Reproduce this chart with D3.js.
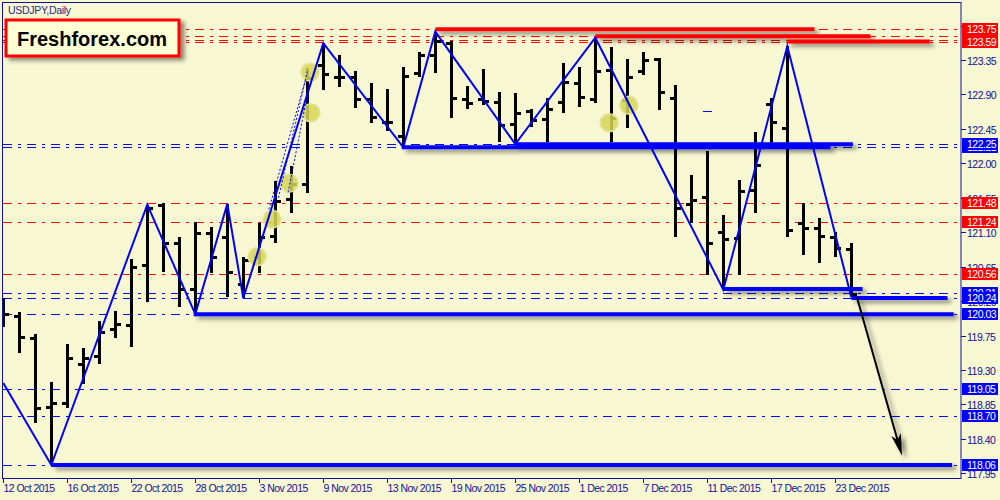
<!DOCTYPE html>
<html><head><meta charset="utf-8">
<script src="https://cdn.jsdelivr.net/npm/d3@7"></script>
<style>body{margin:0;background:#F7F7D2;} svg{display:block;}</style>
</head><body><svg id="c" width="1000" height="500"></svg>
<script>
// ---- data (USDJPY daily, 12 Oct 2015 .. 24 Dec 2015) ----
const opens  = [120.15,120.01,119.72,118.82,118.87,119.38,119.48,119.84,119.89,120.67,121.46,120.96,120.36,121.09,121.04,120.42,120.78,121.05,121.53,121.73,123.28,123.13,123.13,122.84,122.54,122.36,123.18,123.42,123.57,122.84,122.84,122.80,122.51,122.68,122.58,122.80,123.05,122.84,123.22,122.83,123.21,123.36,122.85,121.47,121.56,121.10,121.02,121.65,122.78,122.46,121.22,121.16,121.04,120.88];
const highs  = [120.24,120.06,119.77,119.14,119.64,119.59,119.94,120.07,120.75,121.46,121.48,121.04,121.23,121.17,121.47,120.78,121.22,121.77,121.97,123.25,123.57,123.42,123.21,123.05,122.97,123.26,123.45,123.72,123.60,123.01,123.23,122.93,122.92,122.71,122.85,123.31,123.26,123.64,123.52,123.36,123.45,123.38,123.02,121.85,122.16,121.33,121.78,122.41,122.85,123.53,121.48,121.29,121.10,120.96];
const lows   = [119.86,119.52,118.61,118.06,118.80,119.12,119.38,119.72,119.60,120.19,120.58,120.12,120.02,120.57,120.25,120.24,120.57,120.96,121.35,121.61,122.96,123.00,122.72,122.53,122.42,122.21,123.13,123.18,122.59,122.71,122.76,122.28,122.25,122.47,122.28,122.66,122.74,122.79,122.28,122.46,123.15,122.70,121.04,121.22,120.54,120.35,120.54,121.35,122.20,121.04,120.80,120.70,120.78,120.25];
const closes = [120.03,119.73,118.80,118.87,119.46,119.46,119.80,119.90,120.65,121.42,120.96,120.36,121.09,120.78,120.58,120.74,121.04,121.51,121.73,123.11,123.17,123.13,122.84,122.61,122.54,123.14,123.42,123.60,122.85,122.79,122.81,122.50,122.66,122.57,122.71,123.06,122.87,123.21,122.59,123.13,123.35,122.93,121.42,121.52,120.96,121.01,121.64,121.98,122.54,121.13,121.16,121.05,120.89,120.29];

const dateTickIdx = [0,4,8,12,16,20,24,28,32,36,40,44,48,52];
const dateTickLabels = ["12 Oct 2015","16 Oct 2015","22 Oct 2015","28 Oct 2015","3 Nov 2015","9 Nov 2015","13 Nov 2015","19 Nov 2015","25 Nov 2015","1 Dec 2015","7 Dec 2015","11 Dec 2015","17 Dec 2015","23 Dec 2015"];
const priceTicks = [117.95,118.40,118.85,119.30,119.75,120.20,120.65,121.10,121.55,122.00,122.45,122.90,123.35,123.80];

// horizontal levels (dash-dot) with axis labels
const redLevels  = [123.66,123.61,123.75,123.59,121.48,121.24,120.56];
const blueLevels = [122.21,122.25,120.31,120.24,120.03,119.05,118.70,118.06];

// thick support / resistance segments: [startIdx, endIdx, price]
const blueSegStart = [3, 11.9, 24.9, 32, 45, 53];
const blueSegEnd   = [59.3, 59.4, 51.7, 53.1, 53.7, 59];
const blueSegPrice = [118.06, 120.03, 122.21, 122.25, 120.36, 120.24];
const redSegStart  = [27, 37, 49];
const redSegEnd    = [50.7, 54.2, 57.9];
const redSegPrice  = [123.75, 123.66, 123.59];

// zigzag
const zigIdx   = [0, 3, 9, 12, 14, 15, 20, 25, 27, 32, 37, 45, 49, 53];
const zigPrice = [119.13,118.06,121.46,120.03,121.47,120.24,123.57,122.21,123.72,122.25,123.64,120.35,123.53,120.25];

// fan (dotted) lines
const fanFromIdx = [16.6, 17.2, 17.8], fanFromPrice = [121.40, 121.55, 121.62];
const fanToIdx   = [18.9, 19.0, 19.15], fanToPrice   = [123.10, 123.20, 123.05];

// marker circles
const circIdx   = [19.17, 19.23, 17.86, 16.79, 15.86, 37.86, 39.1];
const circPrice = [123.19, 122.66, 121.74, 121.27, 120.78, 122.53, 122.76];

// forecast arrow
const arrowIdx = [53.35, 56.17], arrowPrice = [120.25, 118.18];

// ---- drawing ----
const svg = d3.select("#c");
const W = 1000, H = 500;
const x = d3.scaleLinear().domain([0, 1]).range([3.3, 19.3]);
const y = d3.scaleLinear().domain([117.89, 124.107]).range([478, 2]);
const plotL = 3, plotR = 961, plotT = 2, plotB = 478;
const navy = "#10109A";

const defs = svg.append("defs");
const f = defs.append("filter").attr("id","sh").attr("filterUnits","userSpaceOnUse")
  .attr("x",0).attr("y",0).attr("width",W).attr("height",H);
f.append("feDropShadow").attr("dx",4).attr("dy",3).attr("stdDeviation",2)
  .attr("flood-color","#000").attr("flood-opacity",0.45);
defs.append("clipPath").attr("id","plot").append("rect")
  .attr("x",plotL).attr("y",plotT).attr("width",plotR-plotL).attr("height",plotB-plotT);

svg.append("rect").attr("width",W).attr("height",H).attr("fill","#F7F7D2");

const g = svg.append("g").attr("clip-path","url(#plot)");
const dashDot = "9,6,3,6";
const snap = v => Math.round(v) + 0.5;

// dash-dot level lines
g.selectAll(".rl").data(redLevels).join("line")
  .attr("x1",plotL).attr("x2",plotR).attr("y1",d=>snap(y(d))).attr("y2",d=>snap(y(d)))
  .attr("stroke","#FF0000").attr("stroke-width",1).attr("stroke-dasharray",dashDot);
g.selectAll(".bl").data(blueLevels).join("line")
  .attr("x1",plotL).attr("x2",plotR).attr("y1",d=>snap(y(d))).attr("y2",d=>snap(y(d)))
  .attr("stroke","#0000FF").attr("stroke-width",1).attr("stroke-dasharray",dashDot);

// OHLC bars
const bars = g.append("g").attr("stroke","#000").attr("stroke-width",3).attr("shape-rendering","crispEdges");
opens.forEach((o,i)=>{
  const cx = Math.round(x(i));
  bars.append("line").attr("x1",cx+0.5).attr("x2",cx+0.5).attr("y1",y(highs[i])).attr("y2",y(lows[i]));
  bars.append("line").attr("x1",cx-5).attr("x2",cx).attr("y1",snap(y(o))).attr("y2",snap(y(o)));
  bars.append("line").attr("x1",cx+1).attr("x2",cx+6).attr("y1",snap(y(closes[i]))).attr("y2",snap(y(closes[i])));
});
// small blue doji mark
g.append("line").attr("x1",Math.round(x(44))-4).attr("x2",Math.round(x(44))+5)
  .attr("y1",snap(y(122.68))).attr("y2",snap(y(122.68))).attr("stroke","#0000FF").attr("stroke-width",1);

// thick segments with shadow
const segs = g.append("g").attr("filter","url(#sh)");
blueSegPrice.forEach((p,i)=>{
  segs.append("line").attr("x1",x(blueSegStart[i])).attr("x2",x(blueSegEnd[i]))
    .attr("y1",y(p)).attr("y2",y(p)).attr("stroke","#0000FF").attr("stroke-width",4);
});
redSegPrice.forEach((p,i)=>{
  segs.append("line").attr("x1",x(redSegStart[i])).attr("x2",x(redSegEnd[i]))
    .attr("y1",y(p)).attr("y2",y(p)).attr("stroke","#FF0000").attr("stroke-width",4);
});

// marker circles
g.selectAll(".mc").data(circIdx).join("circle")
  .attr("cx",(d)=>x(d)).attr("cy",(d,i)=>y(circPrice[i])).attr("r",9)
  .attr("fill","#D6D658").attr("fill-opacity",0.85).attr("stroke","#E4E49A").attr("stroke-width",1.5);

// fan dotted lines
fanFromIdx.forEach((d,i)=>{
  g.append("line").attr("x1",x(d)).attr("y1",y(fanFromPrice[i])).attr("x2",x(fanToIdx[i])).attr("y2",y(fanToPrice[i]))
   .attr("stroke","#0000FF").attr("stroke-width",1).attr("stroke-dasharray","2,2");
});

// zigzag
const zz = zigIdx.map((d,i)=>[x(d), y(zigPrice[i])]);
g.append("path").attr("d",d3.line()(zz)).attr("fill","none").attr("stroke","#0000FF").attr("stroke-width",2);

// arrow
const ax1 = x(arrowIdx[0]), ay1 = y(arrowPrice[0]), ax2 = x(arrowIdx[1]), ay2 = y(arrowPrice[1]);
const ang = Math.atan2(ay2-ay1, ax2-ax1);
const hl = 22, hw = 5;
const bx = ax2 - hl*Math.cos(ang), by = ay2 - hl*Math.sin(ang);
const px = -Math.sin(ang), py = Math.cos(ang);
const ag = g.append("g").attr("filter","url(#sh)");
ag.append("line").attr("x1",ax1).attr("y1",ay1).attr("x2",bx+ (hl*0.3)*Math.cos(ang)).attr("y2",by+(hl*0.3)*Math.sin(ang))
  .attr("stroke","#000").attr("stroke-width",2);
ag.append("path").attr("d",`M${ax2},${ay2}L${bx+px*hw},${by+py*hw}L${bx+0.25*hl*Math.cos(ang)},${by+0.25*hl*Math.sin(ang)}L${bx-px*hw},${by-py*hw}Z`)
  .attr("fill","#000");

// frame
svg.append("rect").attr("x",plotL-0.5).attr("y",plotT+0.5).attr("width",plotR-plotL+0.5).attr("height",plotB-plotT)
  .attr("fill","none").attr("stroke",navy).attr("stroke-width",1);

// y axis
const fontF = "'Liberation Sans', Arial, sans-serif";
const ya = svg.append("g");
priceTicks.forEach(t=>{
  const yy = snap(y(t));
  ya.append("line").attr("x1",plotR).attr("x2",plotR+5).attr("y1",yy).attr("y2",yy).attr("stroke",navy);
  ya.append("text").attr("x",plotR+6).attr("y",yy+4).text(t.toFixed(2))
    .attr("font-family",fontF).attr("font-size",10.5).attr("letter-spacing",-0.5).attr("fill",navy);
});
// level label boxes
function box(v, col){
  const yy = y(v);
  ya.append("rect").attr("x",plotR+1).attr("y",Math.round(yy)-6).attr("width",W-plotR-3).attr("height",12).attr("fill",col);
  ya.append("text").attr("x",plotR+6).attr("y",Math.round(yy)+4).text(v.toFixed(2))
    .attr("font-family",fontF).attr("font-size",10.5).attr("letter-spacing",-0.5).attr("fill","#fff");
}
blueLevels.forEach(v=>box(v,"#0000FF"));
redLevels.forEach(v=>box(v,"#FF0000"));

// x axis
const xa = svg.append("g");
dateTickIdx.forEach((d,i)=>{
  const xx = snap(x(d));
  xa.append("line").attr("x1",xx).attr("x2",xx).attr("y1",plotB).attr("y2",plotB+5).attr("stroke",navy);
  xa.append("text").attr("x",xx).attr("y",492).text(dateTickLabels[i])
    .attr("font-family",fontF).attr("font-size",10.5).attr("letter-spacing",-0.55).attr("fill",navy);
});

// title
svg.append("text").attr("x",8).attr("y",14).text("USDJPY,Daily")
  .attr("font-family",fontF).attr("font-size",10.5).attr("letter-spacing",-0.3).attr("fill","#2A2A8A");

// brand box
const bb = svg.append("g");
bb.append("rect").attr("x",6).attr("y",20).attr("width",173).attr("height",36)
  .attr("fill","#FFFFD6").attr("stroke","#FF0000").attr("stroke-width",3).attr("filter","url(#sh)");
bb.append("text").attr("x",92).attr("y",46).attr("text-anchor","middle").text("Freshforex.com")
  .attr("font-family",fontF).attr("font-weight","bold").attr("font-size",20).attr("fill","#000");
</script></body></html>
